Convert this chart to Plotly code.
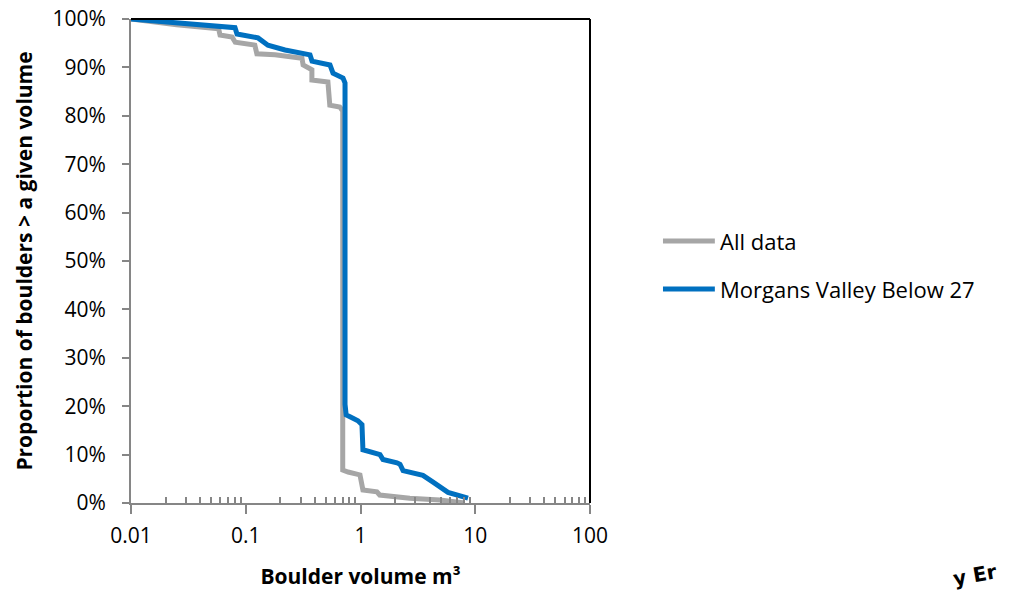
import plotly.graph_objects as go

# All data (boulder volume m3, proportion %)
all_vol = [0.01, 0.025, 0.058, 0.0597, 0.076, 0.081, 0.120, 0.125, 0.18, 0.309, 0.316,
           0.377, 0.377, 0.52, 0.54, 0.66, 0.70, 0.70, 0.78, 0.99, 1.05, 1.39, 1.47,
           2.08, 2.69, 4.9, 8.1]
all_pct = [100, 98.8, 98.0, 96.7, 96.3, 95.2, 94.6, 92.8, 92.6, 91.9, 90.5,
           89.5, 87.4, 87.0, 82.2, 81.8, 81.0, 6.8, 6.4, 5.8, 2.7, 2.3, 1.65,
           1.24, 1.0, 0.6, 0.0]

# Morgans Valley Below 27
mv_vol = [0.01, 0.076, 0.0806, 0.0839, 0.128, 0.156, 0.22, 0.363, 0.378, 0.542,
          0.576, 0.704, 0.733, 0.733, 0.75, 0.81, 0.95, 1.03, 1.05, 1.48, 1.57,
          2.08, 2.21, 2.35, 3.5, 4.29, 5.79, 8.65]
mv_pct = [100, 98.3, 98.2, 96.9, 96.1, 94.6, 93.6, 92.6, 91.3, 90.5,
          88.8, 87.8, 86.8, 20.4, 18.2, 17.8, 17.0, 16.2, 11.0, 10.0, 9.0,
          8.3, 8.0, 6.7, 5.7, 4.3, 2.2, 1.0]

series_names = ["All data", "Morgans Valley Below 27"]
series_colors = ["#A6A6A6", "#0070C0"]

x_ticks = [0.01, 0.1, 1, 10, 100]
x_ticktext = ["0.01", "0.1", "1", "10", "100"]
y_ticks = [0, 10, 20, 30, 40, 50, 60, 70, 80, 90, 100]
y_ticktext = [f"{v}%" for v in y_ticks]

minor_vals = [m * d for d in [0.01, 0.1, 1, 10] for m in range(2, 10)]

FONT = "Open Sans"
AXIS_GRAY = "#868686"

fig = go.Figure()
fig.add_trace(go.Scatter(x=all_vol, y=all_pct, mode="lines", name=series_names[0],
                         line=dict(color=series_colors[0], width=5)))
fig.add_trace(go.Scatter(x=mv_vol, y=mv_pct, mode="lines", name=series_names[1],
                         line=dict(color=series_colors[1], width=5)))

# custom legend (line sample + label), positioned in paper coordinates
legend_y = [0.5413, 0.4421]
shapes = [
    dict(type="line", xref="paper", yref="paper", x0=0, x1=1, y0=1, y1=1,
         line=dict(color="black", width=2)),
    dict(type="line", xref="paper", yref="paper", x0=1, x1=1, y0=0, y1=1,
         line=dict(color="black", width=2)),
]
annotations = []
for name, col, ly in zip(series_names, series_colors, legend_y):
    shapes.append(dict(type="line", xref="paper", yref="paper", x0=1.159, x1=1.272,
                       y0=ly, y1=ly, line=dict(color=col, width=5)))
    annotations.append(dict(text=name, xref="paper", yref="paper", x=1.2789, y=ly,
                            xanchor="left", yanchor="middle", showarrow=False,
                            font=dict(family=FONT, size=22, color="black")))

annotations.append(dict(text="<b>y Er</b>", xref="paper", yref="paper", x=1.838, y=-0.148,
                        xanchor="center", yanchor="middle", showarrow=False, textangle=-10,
                        font=dict(family="DejaVu Sans", size=20, color="black")))

fig.update_layout(
    width=1010, height=590,
    margin=dict(l=131, r=420, t=19, b=87),
    paper_bgcolor="white", plot_bgcolor="white",
    font=dict(family=FONT, size=22, color="black"),
    showlegend=False,
    xaxis=dict(type="log", range=[-2, 2], tickvals=x_ticks, ticktext=x_ticktext,
               automargin=False,
               showgrid=False, zeroline=False, showline=True, linecolor=AXIS_GRAY,
               linewidth=2, ticks="outside", ticklen=9, tickwidth=2, tickcolor=AXIS_GRAY,
               minor=dict(tickvals=minor_vals, ticks="inside", ticklen=6, tickwidth=2,
                          tickcolor=AXIS_GRAY, showgrid=False),
               tickfont=dict(family=FONT, size=21), ticklabelstandoff=4,
               title=dict(text="<b>Boulder volume m³</b>", standoff=21,
                          font=dict(family=FONT, size=21))),
    yaxis=dict(range=[0, 100], tickvals=y_ticks, ticktext=y_ticktext,
               automargin=False,
               showgrid=False, zeroline=False, showline=True, linecolor=AXIS_GRAY,
               linewidth=2, ticks="outside", ticklen=7, tickwidth=2, tickcolor=AXIS_GRAY,
               tickfont=dict(family=FONT, size=21), ticklabelstandoff=12,
               title=dict(text="<b>Proportion of boulders > a given volume</b>", standoff=14,
                          font=dict(family=FONT, size=21))),
    shapes=shapes,
    annotations=annotations,
)

fig.write_html("out.html")
